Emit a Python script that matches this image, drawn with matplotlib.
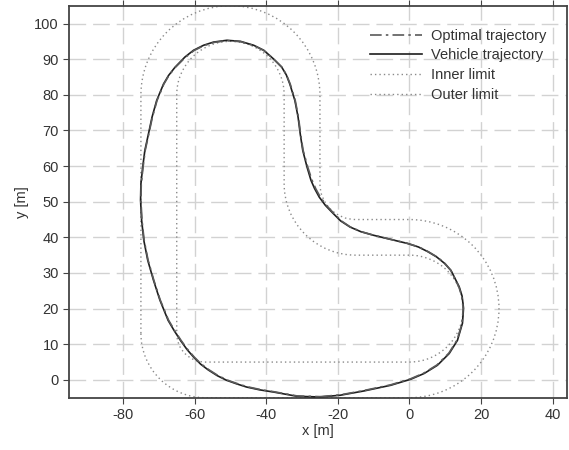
import numpy as np
import matplotlib
matplotlib.use("Agg")
import matplotlib.pyplot as plt
from matplotlib.path import Path
from matplotlib.patches import PathPatch

# track boundaries: (centre x, centre y, radius, start angle, end angle) of each bend,
# joined by straight segments in driving order
inner_bends = [(-57, 13, 8, 180, 270),
               (0, 20, 15, 270, 450),
               (-15, 55, 20, 270, 180),
               (-50, 80, 15, 0, 180)]
outer_bends = [(-57, 13, 18, 180, 270),
               (0, 20, 25, 270, 450),
               (-15, 55, 10, 270, 180),
               (-50, 80, 25, 0, 180)]

# optimal racing line
opt_x = [-24.9, -19.3, -12.8, -5.3, 0.3, 4.0, 7.7, 11.0, 13.3, 14.7, 15.0, 14.6,
         13.8, 11.5, 9.8, 7.7, 5.2, 2.6, -0.5, -3.4, -6.7, -10.0, -13.5, -16.5,
         -19.0, -21.1, -23.2, -24.9, -26.2, -27.2, -28.4, -29.7, -30.4, -31.0,
         -31.9, -33.3, -34.3, -35.6, -37.9, -40.6, -43.4, -47.1, -50.9, -54.6,
         -57.4, -60.2, -62.6, -65.4, -67.2, -68.6, -70.5, -71.8, -72.8, -73.8,
         -74.4, -74.9, -75.0, -74.7, -74.1, -73.0, -71.4, -69.6, -67.3, -65.6,
         -63.8, -62.0, -60.1, -58.2, -56.1, -53.6, -51.0, -48.2, -45.4, -41.7,
         -38.0, -31.4, -24.9]
opt_y = [-4.7, -4.2, -3.0, -1.4, 0.3, 1.9, 4.2, 7.5, 11.2, 15.9, 20.1, 23.5,
         26.1, 30.8, 32.8, 34.5, 36.0, 37.3, 38.3, 39.0, 39.8, 40.6, 41.6, 42.9,
         44.6, 46.7, 49.0, 51.3, 53.7, 56.0, 59.7, 64.4, 69.0, 73.7,
         78.4, 83.0, 85.5, 87.7, 90.0, 92.4, 93.8, 94.9, 95.2, 94.7,
         93.8, 92.4, 90.5, 87.7, 85.4, 83.0, 78.4, 73.7, 69.0, 64.4,
         59.7, 55.0, 50.4, 44.8, 39.2, 33.6, 28.0, 22.4, 16.8, 13.9,
         11.1, 8.6, 6.4, 4.5, 2.9, 1.3, 0.0, -1.0, -1.9, -2.7,
         -3.3, -4.5, -4.7]

# measured vehicle path
veh_x = [-24.9, -19.3, -12.7, -5.2, 0.4, 4.1, 7.8, 11.1, 13.4, 14.8, 15.1, 14.7,
         13.9, 11.6, 9.8, 7.6, 5.1, 2.5, -0.6, -3.5, -6.8, -10.1, -13.6, -16.6,
         -19.2, -21.3, -23.5, -25.2, -26.5, -27.5, -28.6, -29.8, -30.5, -31.1,
         -32.0, -33.4, -34.4, -35.7, -38.0, -40.7, -43.5, -47.2, -51.0, -54.7,
         -57.5, -60.3, -62.7, -65.5, -67.3, -68.7, -70.6, -71.9, -72.9, -73.9,
         -74.5, -75.0, -75.1, -74.8, -74.2, -73.1, -71.5, -69.7, -67.4, -65.7,
         -63.9, -62.1, -60.2, -58.3, -56.2, -53.7, -51.1, -48.3, -45.5, -41.8,
         -38.0, -31.4, -24.9]
veh_y = [-4.8, -4.3, -3.1, -1.5, 0.2, 1.8, 4.1, 7.4, 11.1, 15.9, 20.1, 23.5,
         26.1, 30.7, 32.7, 34.5, 36.0, 37.3, 38.3, 39.0, 39.8, 40.6, 41.6, 42.9,
         44.6, 46.7, 49.0, 51.3, 53.7, 56.0, 59.7, 64.4, 69.0, 73.7,
         78.4, 83.0, 85.6, 87.8, 90.1, 92.5, 93.9, 95.0, 95.3, 94.8,
         93.9, 92.5, 90.6, 87.7, 85.4, 83.0, 78.4, 73.7, 69.0, 64.4,
         59.7, 55.0, 50.4, 44.8, 39.2, 33.6, 28.0, 22.4, 16.7, 13.8,
         11.0, 8.5, 6.3, 4.4, 2.8, 1.2, -0.1, -1.1, -2.0, -2.8,
         -3.4, -4.6, -4.8]


def track_path(bends):
    verts, codes = [], []
    for cx, cy, r, t1, t2 in bends:
        if t2 > t1:
            arc = Path.arc(t1, t2)
            v = arc.vertices.copy()
        else:
            arc = Path.arc(t2, t1)
            v = arc.vertices[::-1].copy()
        v = v * r + [cx, cy]
        c = list(arc.codes)
        c[0] = Path.LINETO if verts else Path.MOVETO
        verts.extend(v)
        codes.extend(c)
    verts.append(verts[0])
    codes.append(Path.LINETO)
    return Path(np.array(verts), codes)


plt.rcParams['font.family'] = ['Liberation Sans', 'DejaVu Sans']
plt.rcParams['axes.unicode_minus'] = False
fig = plt.figure(figsize=(5.69, 4.5), dpi=100)
ax = fig.add_axes([0.1218, 0.1162, 0.8747, 0.8711])

limit_style = dict(color='#8a8a8a', lw=1.0, linestyle=(0, (1, 2.2)))

ax.plot(veh_x, veh_y, color='#1e1e1e', lw=1.2, solid_joinstyle='round',
        label='Vehicle trajectory', zorder=3)
ax.plot(opt_x, opt_y, color='#5a5a5a', lw=1.2, dashes=(7, 2.5, 1.5, 2.5),
        label='Optimal trajectory', zorder=4)

ax.add_patch(PathPatch(track_path(inner_bends), fill=False, edgecolor='#8a8a8a',
                       lw=1.0, linestyle=(0, (1, 2.2)), zorder=2))
ax.add_patch(PathPatch(track_path(outer_bends), fill=False, edgecolor='#8a8a8a',
                       lw=1.0, linestyle=(0, (1, 2.2)), zorder=2))
ax.plot([], [], label='Inner limit', **limit_style)
ax.plot([], [], label='Outer limit', **limit_style)

ax.set_xlim(-95, 44)
ax.set_ylim(-5, 105)
ax.set_xticks(np.arange(-80, 41, 20))
ax.set_yticks(np.arange(0, 101, 10))
ax.grid(True, color='#d2d2d2', lw=1.0, dashes=(12, 5))
ax.set_axisbelow(True)

for s in ax.spines.values():
    s.set_color('#444444')
    s.set_linewidth(1.3)
ax.tick_params(colors='#444444', labelcolor='#333333', labelsize=10.5,
               length=4, width=0.8, top=True)
ax.set_xlabel('x [m]', fontsize=10.5, color='#333333', labelpad=1)
ax.set_ylabel('y [m]', fontsize=10.5, color='#333333', labelpad=4)

handles, labels = ax.get_legend_handles_labels()
order = [1, 0, 2, 3]
ax.legend([handles[i] for i in order], [labels[i] for i in order],
          loc='upper right', bbox_to_anchor=(0.985, 0.975), frameon=False,
          fontsize=10.5, handlelength=3.6, handletextpad=0.6, labelspacing=0.4,
          labelcolor='#333333')

fig.savefig('out.png', dpi=100)
